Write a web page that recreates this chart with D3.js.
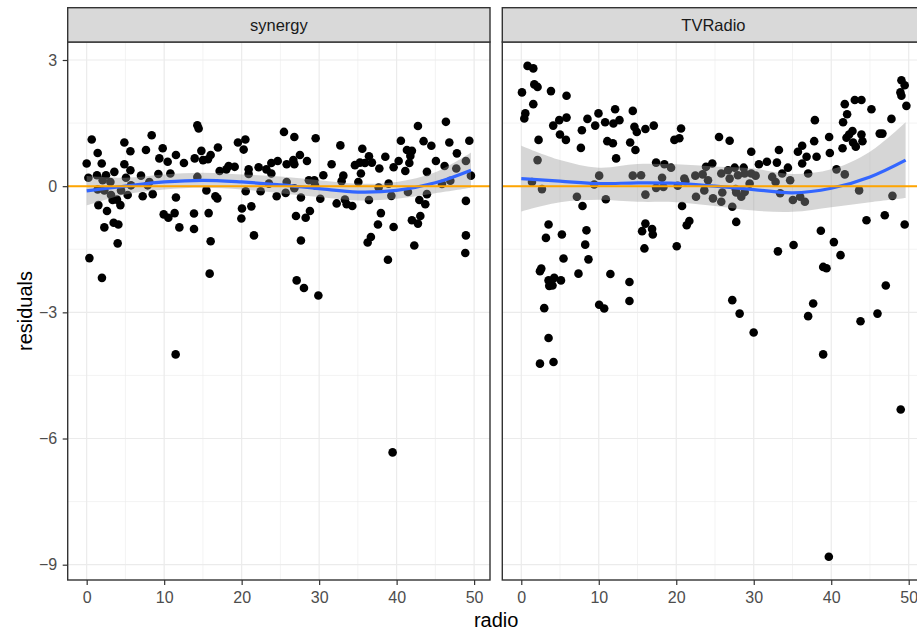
<!DOCTYPE html>
<html>
<head>
<meta charset="utf-8">
<script src="https://cdn.jsdelivr.net/npm/d3@7"></script>
<style>
  html, body { margin: 0; padding: 0; background: #fff; }
  svg { display: block; font-family: "Liberation Sans", Arial, sans-serif; }
</style>
</head>
<body>
<svg id="chart" width="917" height="633"></svg>
<script>
// ---- data: residuals against radio budget, one panel per model ----
const panelNames = ["synergy", "TVRadio"];

const synergyRadio = [0.65,8.39,4.86,5.64,1.42,7.65,9.81,0.0,1.94,4.86,9.38,10.45,11.52,5.64,3.57,0.22,1.33,2.49,5.07,7.01,9.25,10.8,2.06,3.06,5.72,8.09,7.87,1.42,2.28,4.43,3.14,5.29,7.23,8.52,3.35,3.91,4.35,1.51,2.62,11.52,9.94,10.54,11.96,2.28,3.48,4.09,4.0,0.35,1.97,
  14.28,14.45,12.55,13.94,14.8,15.01,15.65,16.0,16.94,19.52,20.48,20.26,17.16,18.03,18.32,19.1,20.9,20.9,22.19,23.19,23.83,23.83,14.28,15.45,16.61,16.86,20.52,22.45,23.52,11.35,13.85,15.74,20.04,21.25,19.96,13.85,16.0,21.59,15.87,
  25.46,26.8,29.55,32.74,35.57,36.43,24.65,25.81,26.67,26.8,27.52,28.43,31.61,34.62,35.26,35.91,35.39,30.54,33.12,32.9,35.06,25.81,28.68,29.38,29.46,26.8,25.68,24.52,27.65,30.15,32.26,33.33,33.55,34.28,36.43,28.81,27.01,28.26,27.65,36.26,36.68,27.1,28.04,29.9,
  42.75,46.36,40.55,43.48,44.48,46.8,49.38,41.33,41.97,41.77,47.78,48.94,36.81,38.54,40.26,41.64,45.07,46.19,37.77,39.61,41.12,43.91,47.7,49.59,46.93,45.85,38.97,37.68,41.46,43.91,39.32,42.93,43.7,48.94,37.97,43.06,41.97,42.75,37.59,39.61,48.94,42.28,48.86,38.88,
  11.48,39.48];
const synergyResid = [1.11,1.21,1.04,0.83,0.79,0.86,0.9,0.54,0.54,0.52,0.66,0.58,0.74,0.38,0.34,0.2,0.26,0.26,0.2,0.25,0.29,0.3,0.14,0.1,0.02,0.1,0.02,-0.08,-0.1,-0.1,-0.21,-0.21,-0.24,-0.19,-0.33,-0.32,-0.45,-0.45,-0.59,-0.27,-0.67,-0.75,-0.98,-0.98,-0.87,-0.91,-1.36,-1.71,-2.18,
  1.45,1.37,0.55,0.66,0.84,0.62,0.64,0.74,0.92,1.04,1.11,0.87,0.36,0.4,0.48,0.46,0.4,0.29,0.45,0.4,0.55,0.3,0.22,-0.1,-0.24,-0.29,-0.12,-0.12,0.06,-0.64,-0.65,-0.64,-0.53,-0.48,-0.77,-1.02,-1.31,-1.17,-2.08,
  1.29,1.17,1.14,0.97,0.89,0.71,0.6,0.52,0.62,0.52,0.74,0.6,0.52,0.5,0.56,0.55,0.3,0.26,0.25,0.12,0.1,0.1,0.14,0.14,0.02,-0.05,-0.16,-0.24,-0.27,-0.3,-0.41,-0.32,-0.43,-0.47,-0.33,-0.59,-0.71,-0.75,-1.29,-1.34,-1.21,-2.24,-2.42,-2.6,
  1.43,1.53,1.08,1.07,0.96,1.04,1.08,0.86,0.84,0.72,0.78,0.6,0.56,0.7,0.6,0.55,0.6,0.48,0.42,0.45,0.36,0.34,0.42,0.25,0.13,0.05,0.06,-0.03,-0.14,-0.19,-0.23,-0.33,-0.43,-0.35,-0.64,-0.71,-0.81,-0.89,-0.91,-0.97,-1.17,-1.41,-1.59,-1.75,
  -4.0,-6.33];

const tvRadioRadio = [0.81,1.55,1.68,2.1,0.09,3.83,5.84,1.55,0.52,0.39,9.96,10.82,8.54,9.54,4.9,5.84,4.12,7.82,4.99,5.76,2.23,7.69,11.1,2.1,10.05,1.38,9.41,2.67,7.18,7.9,10.91,3.52,3.18,5.24,8.41,8.25,5.45,8.67,2.58,2.41,7.38,3.52,4.25,5.12,3.61,4.03,11.5,10.05,10.7,2.96,3.52,2.41,4.16,
  12.11,14.39,12.67,11.89,14.6,14.91,16.02,17.1,20.62,19.76,20.4,11.82,14.05,14.73,12.24,17.4,18.47,19.33,14.39,15.46,18.17,23.84,22.46,21.04,23.41,17.4,18.34,20.19,21.17,16.02,22.55,23.62,20.75,16.02,15.59,16.88,16.97,21.69,21.35,15.89,20.06,13.96,13.96,
  25.52,26.89,29.68,33.25,35.7,36.25,24.65,24.1,25.81,26.68,27.54,28.7,30.67,31.7,32.99,34.41,33.67,36.25,26.89,27.96,28.83,29.68,30.24,32.38,34.7,32.82,29.47,25.94,27.67,27.74,28.39,28.83,24.74,25.81,27.23,33.41,35.05,35.99,27.74,33.12,35.14,27.23,28.18,29.99,
  49.06,49.48,48.93,49.06,49.7,43.04,43.9,41.75,42.05,45.19,37.89,41.53,47.77,42.74,42.31,43.9,46.26,46.61,39.73,41.97,37.8,42.82,44.03,43.17,41.46,39.82,36.82,38.11,37.02,40.68,41.75,43.6,47.9,36.6,44.55,46.91,49.48,38.66,40.34,41.2,38.96,39.39,47.04,37.67,37.02,45.97,43.78,38.96,39.69,48.97];
const tvRadioResid = [2.86,2.8,2.42,2.36,2.23,2.26,2.15,1.95,1.73,1.61,1.73,1.52,1.6,1.44,1.57,1.63,1.44,1.33,1.23,1.1,1.1,0.91,1.07,0.62,0.25,0.1,0.04,-0.07,-0.25,-0.47,-0.31,-0.91,-1.23,-1.15,-1.05,-1.39,-1.72,-1.74,-1.96,-2.02,-2.08,-2.24,-2.18,-2.24,-2.37,-2.36,-2.09,-2.82,-2.91,-2.9,-3.61,-4.22,-4.18,
  1.83,1.79,1.57,1.49,1.41,1.29,1.36,1.44,1.37,1.1,1.14,1.02,1.04,0.86,0.66,0.56,0.52,0.44,0.25,0.26,0.2,0.46,0.25,0.18,0.28,-0.04,-0.02,0.01,0.12,-0.2,-0.25,-0.1,-0.47,-0.89,-1.07,-1.02,-1.15,-0.83,-0.93,-1.48,-1.43,-2.28,-2.73,
  1.17,1.08,0.82,0.86,0.82,0.96,0.54,0.14,0.3,0.38,0.44,0.44,0.52,0.58,0.56,0.44,0.3,0.54,0.18,0.26,0.3,0.3,0.25,0.22,0.14,0.1,0.06,-0.15,-0.07,-0.15,-0.25,-0.14,-0.29,-0.37,-0.49,-0.17,-0.33,-0.25,-0.85,-1.55,-1.4,-2.71,-3.03,-3.48,
  2.52,2.4,2.23,2.15,1.91,2.05,2.05,1.95,1.71,1.83,1.57,1.52,1.6,1.31,1.23,1.23,1.25,1.25,1.17,1.15,1.07,1.04,1.07,0.94,0.9,0.79,0.7,0.7,0.3,0.4,0.28,-0.1,-0.23,-0.37,-0.81,-0.69,-0.91,-1.06,-1.33,-1.64,-1.92,-1.95,-2.36,-2.79,-3.09,-3.03,-3.21,-4.0,-8.81,-5.31];

// loess fit with its confidence half-width, per panel
const smoothRadio = [0, 5, 10, 15, 20, 25, 30, 35, 40, 45, 49.6];
const synergyFit  = [-0.11, 0.0, 0.1, 0.14, 0.1, 0.03, -0.06, -0.14, -0.1, 0.08, 0.38];
const synergySe   = [0.35, 0.2, 0.18, 0.18, 0.18, 0.2, 0.2, 0.2, 0.2, 0.25, 0.42];
const tvRadioFit  = [0.18, 0.12, 0.06, 0.08, 0.07, 0.0, -0.08, -0.16, -0.05, 0.22, 0.62];
const tvRadioSe   = [0.78, 0.5, 0.38, 0.45, 0.45, 0.47, 0.5, 0.45, 0.45, 0.6, 0.9];

const xTicks = [0, 10, 20, 30, 40, 50];
const xMinor = [5, 15, 25, 35, 45];
const yTicks = [-9, -6, -3, 0, 3];
const yMinor = [-7.5, -4.5, -1.5, 1.5];
const referenceLine = 0;

// ---- layout ----
const svg = d3.select("#chart");
const W = 917, H = 633;
const panelW = 422.3;
const panelLefts = [67.7, 502.3];
const panelTop = 42, panelBottom = 580, stripTop = 7.7;
const xDomain = [-2.45, 52.05];
const yDomain = [-9.364, 3.428];

svg.append("rect").attr("width", W).attr("height", H).attr("fill", "#fff");

const y = d3.scaleLinear().domain(yDomain).range([panelBottom, panelTop]);

const panels = [
  { name: panelNames[0], xs: synergyRadio, ys: synergyResid, fit: synergyFit, se: synergySe },
  { name: panelNames[1], xs: tvRadioRadio, ys: tvRadioResid, fit: tvRadioFit, se: tvRadioSe }
];

panels.forEach((p, i) => {
  const left = panelLefts[i];
  const x = d3.scaleLinear().domain(xDomain).range([left, left + panelW]);
  const g = svg.append("g");

  // panel background & grid
  g.append("rect").attr("x", left).attr("y", panelTop).attr("width", panelW).attr("height", panelBottom - panelTop).attr("fill", "#fff");
  const grid = g.append("g").attr("stroke", "#EBEBEB").attr("fill", "none");
  xMinor.forEach(v => grid.append("line").attr("x1", x(v)).attr("x2", x(v)).attr("y1", panelTop).attr("y2", panelBottom).attr("stroke-width", 0.6));
  yMinor.forEach(v => grid.append("line").attr("x1", left).attr("x2", left + panelW).attr("y1", y(v)).attr("y2", y(v)).attr("stroke-width", 0.6));
  xTicks.forEach(v => grid.append("line").attr("x1", x(v)).attr("x2", x(v)).attr("y1", panelTop).attr("y2", panelBottom).attr("stroke-width", 1.2));
  yTicks.forEach(v => grid.append("line").attr("x1", left).attr("x2", left + panelW).attr("y1", y(v)).attr("y2", y(v)).attr("stroke-width", 1.2));

  // points
  const pts = p.xs.map((v, k) => [v, p.ys[k]]);
  g.append("g").selectAll("circle").data(pts).join("circle")
    .attr("cx", d => x(d[0])).attr("cy", d => y(d[1])).attr("r", 4.3).attr("fill", "#000");

  // smooth band + line
  const sm = smoothRadio.map((v, k) => ({ x: v, f: p.fit[k], s: p.se[k] }));
  g.append("path").datum(sm)
    .attr("d", d3.area().x(d => x(d.x)).y0(d => y(d.f - d.s)).y1(d => y(d.f + d.s)).curve(d3.curveCatmullRom))
    .attr("fill", "#999999").attr("fill-opacity", 0.4);
  g.append("path").datum(sm)
    .attr("d", d3.line().x(d => x(d.x)).y(d => y(d.f)).curve(d3.curveCatmullRom))
    .attr("fill", "none").attr("stroke", "#3366FF").attr("stroke-width", 3.2);

  // zero reference line
  g.append("line").attr("x1", left).attr("x2", left + panelW)
    .attr("y1", y(referenceLine)).attr("y2", y(referenceLine))
    .attr("stroke", "#FFA500").attr("stroke-width", 2);

  // border
  g.append("rect").attr("x", left).attr("y", panelTop).attr("width", panelW).attr("height", panelBottom - panelTop)
    .attr("fill", "none").attr("stroke", "#333333").attr("stroke-width", 1.4);

  // strip
  g.append("rect").attr("x", left).attr("y", stripTop).attr("width", panelW).attr("height", panelTop - stripTop)
    .attr("fill", "#D9D9D9").attr("stroke", "#333333").attr("stroke-width", 1.4);
  g.append("text").attr("x", left + panelW / 2).attr("y", (stripTop + panelTop) / 2).attr("dy", "0.35em")
    .attr("text-anchor", "middle").attr("font-size", 16.5).attr("fill", "#1A1A1A").text(p.name);

  // x axis
  const xa = g.append("g").attr("transform", `translate(0,${panelBottom})`)
    .call(d3.axisBottom(x).tickValues(xTicks).tickSize(5).tickPadding(7).tickFormat(d3.format("d")));
  xa.select(".domain").remove();
  xa.selectAll(".tick line").attr("stroke", "#333333").attr("stroke-width", 1.2);
  xa.selectAll("text").attr("font-size", 16).attr("fill", "#4D4D4D").attr("font-family", "Liberation Sans, Arial, sans-serif");

  // y axis on first panel only
  if (i === 0) {
    const ya = g.append("g").attr("transform", `translate(${left},0)`)
      .call(d3.axisLeft(y).tickValues(yTicks).tickSize(5).tickPadding(5.5).tickFormat(d => d < 0 ? "\u2212" + Math.abs(d) : d));
    ya.select(".domain").remove();
    ya.selectAll(".tick line").attr("stroke", "#333333").attr("stroke-width", 1.2);
    ya.selectAll("text").attr("font-size", 16).attr("fill", "#4D4D4D").attr("font-family", "Liberation Sans, Arial, sans-serif");
  }
});

// axis titles
svg.append("text").attr("x", (panelLefts[0] + panelLefts[1] + panelW) / 2).attr("y", 627)
  .attr("text-anchor", "middle").attr("font-size", 20).attr("fill", "#000").text("radio");
svg.append("text").attr("transform", `translate(25,${(panelTop + panelBottom) / 2}) rotate(-90)`)
  .attr("text-anchor", "middle").attr("dy", "0.35em").attr("font-size", 20).attr("fill", "#000").text("residuals");
</script>
</body>
</html>
